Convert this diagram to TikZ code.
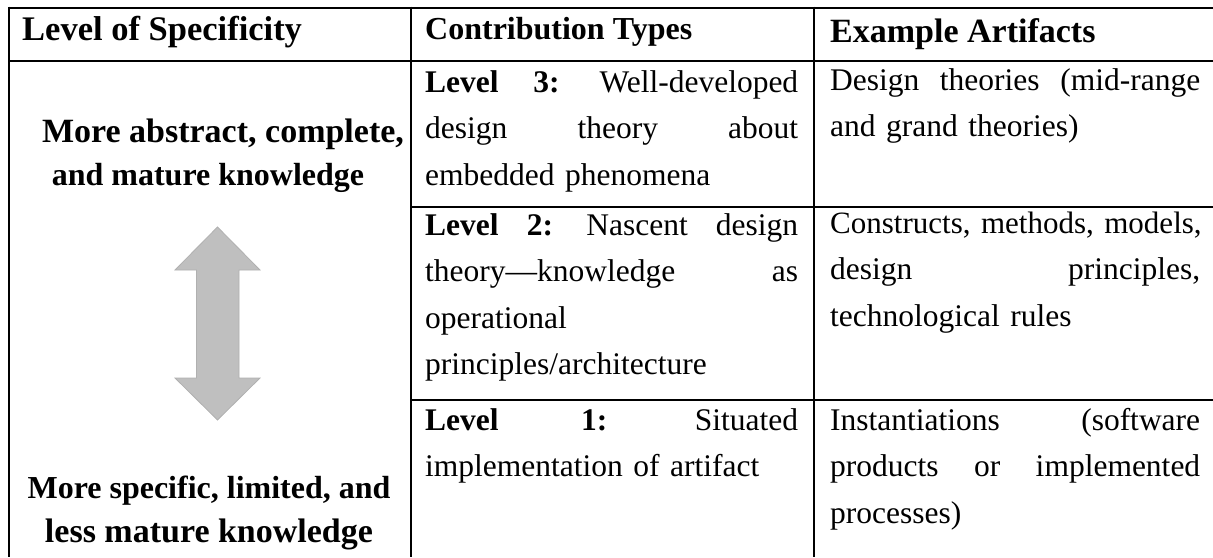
\documentclass[tikz,border=0pt]{standalone}
\usepackage{fontspec}
\setmainfont{Liberation Serif}
\definecolor{arrowfill}{HTML}{BFBFBF}
\definecolor{arrowedge}{HTML}{B0B0B0}
\begin{document}
\begin{tikzpicture}[x=1pt,y=-1pt,
  rule/.style={line width=2pt,black},
  hdr/.style={anchor=base west,inner sep=0pt,font=\fontsize{32}{40}\selectfont\bfseries},
  side/.style={anchor=base,inner sep=0pt,font=\fontsize{32}{44}\selectfont\bfseries},
  sidebig/.style={side,font=\fontsize{34}{44}\selectfont\bfseries},
  cell/.style={anchor=base west,inner sep=0pt,align=left,font=\fontsize{31.5}{46.6}\selectfont},
  bigarrow/.style={fill=arrowfill,draw=arrowedge,line width=0.8pt}]
\useasboundingbox (0,0) rectangle (1213,557);
% grid
\draw[rule] (8.5,7.5) -- (1213,7.5);
\draw[rule] (8.5,60.5) -- (1213,60.5);
\draw[rule] (8.5,6.5) -- (8.5,557);
\draw[rule] (411,6.5) -- (411,557);
\draw[rule] (813.5,6.5) -- (813.5,557);
\draw[rule] (411,207) -- (1213,207);
\draw[rule] (411,399.5) -- (1213,399.5);
% header
\node[hdr,font=\fontsize{34.5}{40}\selectfont\bfseries] (h1) at (22,40) {Level of Specificity};
\node[hdr] (h2) at (425,39) {Contribution Types};
\node[hdr,font=\fontsize{34}{40}\selectfont\bfseries] (h3) at (830,42) {Example Artifacts};
% column 1
\node[sidebig] (t1) at (223,142) {More abstract, complete,};
\node[side] (t2) at (208,185) {and mature knowledge};
\node[side] (b1) at (209,498) {More specific, limited, and};
\node[sidebig] (b2) at (209,542) {less mature knowledge};
\draw[bigarrow] (217.5,227) -- (260,270) -- (239,270) -- (239,378) -- (260,378)
  -- (217.5,420) -- (175,378) -- (196.5,378) -- (196.5,270) -- (175,270) -- cycle;
% column 2
\node[cell,text width=373pt] (c21) at (425,92)
  {\textbf{Level} \hfill \textbf{3:} \hfill Well-developed\\
   design \hfill theory \hfill about\\
   embedded phenomena};
\node[cell,text width=373pt] (c22) at (425,235)
  {\textbf{Level} \hfill \textbf{2:} \hfill Nascent \hfill design\\
   theory\textemdash knowledge \hfill as\\
   operational\\
   principles/architecture};
\node[cell,text width=373pt] (c23) at (425,430)
  {\textbf{Level} \hfill \textbf{1:} \hfill Situated\\
   implementation of artifact};
% column 3
\node[cell,text width=370pt] (c31) at (830,90)
  {Design \hfill theories \hfill (mid-range\\
   and grand theories)};
\node[cell,text width=370pt] (c32) at (830,233)
  {\hbox to 370pt{\fontsize{31}{46.6}\selectfont Constructs,\hfil\ methods,\hfil\ models,}\\
   design \hfill principles,\\
   technological rules};
\node[cell,text width=370pt] (c33) at (830,430)
  {Instantiations \hfill (software\\
   products \hfill or \hfill implemented\\
   processes)};
\end{tikzpicture}
\end{document}
